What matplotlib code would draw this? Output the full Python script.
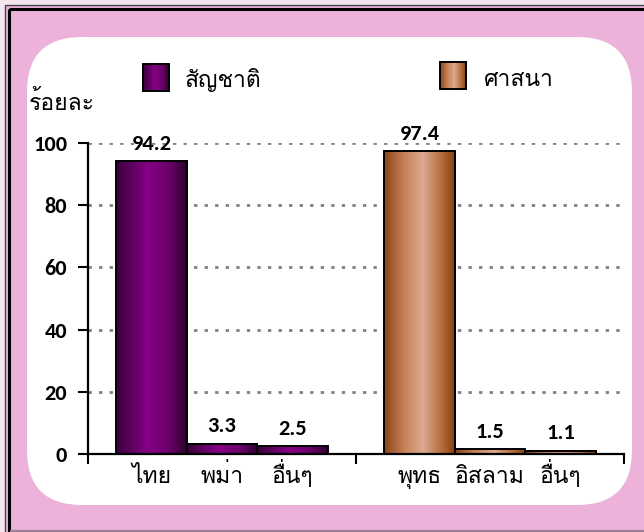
import matplotlib
matplotlib.use('Agg')
import matplotlib.pyplot as plt
from matplotlib import font_manager as fm
from matplotlib.patches import FancyBboxPatch, Rectangle
from matplotlib.colors import LinearSegmentedColormap
import numpy as np

# ---- data ----
nat_labels = ['ไทย', 'พม่า', 'อื่นๆ']
nat_values = [94.2, 3.3, 2.5]
rel_labels = ['พุทธ', 'อิสลาม', 'อื่นๆ']
rel_values = [97.4, 1.5, 1.1]
series_names = ['สัญชาติ', 'ศาสนา']
y_title = 'ร้อยละ'
y_ticks = [0, 20, 40, 60, 80, 100]

# ---- fonts ----
avail = {}
for f in fm.fontManager.ttflist:
    avail.setdefault(f.name, set()).add(f.weight)

def pick(prefs, need_bold=False):
    for p in prefs:
        if p in avail:
            if not need_bold:
                return p
            if any((isinstance(w, int) and w >= 600) or w in ('bold', 'semibold', 'demibold') for w in avail[p]):
                return p
    return 'DejaVu Sans'

thai_font = pick(['Loma', 'Garuda', 'Waree', 'Noto Sans Thai Looped', 'Sarabun', 'Noto Sans Thai'])
num_font = pick(['Carlito', 'Calibri', 'Lato', 'Open Sans'], need_bold=True)
TH = [thai_font, 'DejaVu Sans']
NUM = [num_font, 'DejaVu Sans']
TH_SIZE = 16.5
NUM_SIZE = 16

W, H = 644, 532
fig = plt.figure(figsize=(W / 100, H / 100), dpi=100)
fig.patch.set_facecolor('#F4E6EE')

bg = fig.add_axes([0, 0, 1, 1], zorder=0)
bg.axis('off')
bg.add_patch(Rectangle((5, 4.5), 700, 600, facecolor='#ECB2DA', edgecolor='#444444', lw=1.0))
bg.add_patch(Rectangle((9, 9), 700, 600, facecolor='none', edgecolor='black', lw=2.2))
bg.plot([10, W], [531, 531], color='#9a7f93', lw=1.6, solid_capstyle='butt')
R = 55
bg.add_patch(FancyBboxPatch((27 + R, 37 + R), 605 - 2 * R, 468 - 2 * R,
                            boxstyle=f'round,pad={R}', facecolor='white', edgecolor='none'))

# main axes
ax = fig.add_axes([88 / W, 1 - 454 / H, (624 - 88) / W, (454 - 143) / H], zorder=2)
ax.set_facecolor('none')

x_nat = np.arange(len(nat_values)) * 1.0
x_rel = x_nat + 3.8
width = 1.0

purple_cmap = LinearSegmentedColormap.from_list(
    'pur', [(0, '#3a003c'), (0.45, '#850085'), (0.75, '#6a006a'), (1, '#2e002c')])
brown_cmap = LinearSegmentedColormap.from_list(
    'brn', [(0, '#8a4418'), (0.3, '#c8845a'), (0.55, '#dbaa92'), (0.8, '#b8703e'), (1, '#874010')])

b1 = ax.bar(x_nat, nat_values, width, color='none', edgecolor='black', lw=1.4, zorder=4)
b2 = ax.bar(x_rel, rel_values, width, color='none', edgecolor='black', lw=1.4, zorder=4)

grad = np.linspace(0, 1, 256).reshape(1, -1)
for bars, cm in ((b1, purple_cmap), (b2, brown_cmap)):
    for p in bars:
        x0, y0 = p.get_x(), p.get_y()
        w, h = p.get_width(), p.get_height()
        ax.imshow(grad, cmap=cm, aspect='auto', extent=(x0, x0 + w, y0, y0 + h),
                  zorder=3, interpolation='bicubic')

for bars, vals in ((b1, nat_values), (b2, rel_values)):
    for p, v in zip(bars, vals):
        ax.annotate(f'{v}', (p.get_x() + p.get_width() / 2, v), xytext=(0, 12.5),
                    textcoords='offset points', ha='center', va='center',
                    fontsize=NUM_SIZE, fontweight='bold', family=NUM, clip_on=False, zorder=6)

ax.set_xlim(-0.9, 6.7)
ax.set_ylim(0, 100)
ax.set_yticks(y_ticks)
ax.set_yticklabels([str(t) for t in y_ticks], fontsize=NUM_SIZE, fontweight='bold', family=NUM)
ax.set_xticks([-0.9, 2.9, 6.7])
ax.set_xticklabels([])
ax.tick_params(axis='both', direction='out', length=7, width=1.5, color='black')
ax.tick_params(axis='y', pad=8)
for t in y_ticks[1:]:
    ax.axhline(t, color='#808080', lw=2.0, ls=(0, (1.2, 2.6)), zorder=1)
for s in ('top', 'right'):
    ax.spines[s].set_visible(False)
for s in ('left', 'bottom'):
    ax.spines[s].set_linewidth(1.6)
    ax.spines[s].set_zorder(5)

# category labels
for x, lab in list(zip(x_nat, nat_labels)) + list(zip(x_rel, rel_labels)):
    ax.text(x, -9.3, lab, ha='center', va='baseline', fontsize=TH_SIZE, family=TH, clip_on=False)

# y title
fig.text(29 / W, 1 - 110 / H, y_title, ha='left', va='baseline', fontsize=TH_SIZE, family=TH)

# legend
for (x0, y0, cm) in ((143, 64, purple_cmap), (440, 62, brown_cmap)):
    bg.imshow(grad, cmap=cm, aspect='auto', extent=(x0, x0 + 26, y0 + 27, y0), zorder=2.5)
    bg.add_patch(Rectangle((x0, y0), 26, 27, facecolor='none', edgecolor='black', lw=1.4, zorder=3))
bg.set_xlim(0, W)
bg.set_ylim(H, 0)
bg.text(185, 87, series_names[0], ha='left', va='baseline', fontsize=TH_SIZE, family=TH)
bg.text(484, 86, series_names[1], ha='left', va='baseline', fontsize=TH_SIZE, family=TH)

fig.savefig('out.png', dpi=100, facecolor=fig.get_facecolor())
